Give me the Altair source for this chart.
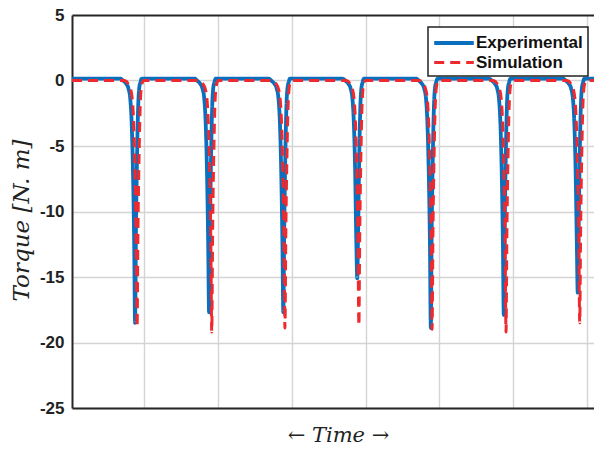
import altair as alt
import pandas as pd

# --- values ---
series_names = ["Experimental", "Simulation"]

# dip (minimum) times and depths, one per cycle
exp_dip_time = [0.883, 1.884, 2.888, 3.888, 4.883, 5.870, 6.870]
exp_dip_depth = [-18.5, -17.7, -17.7, -15.1, -18.9, -17.9, -16.2]
sim_dip_time = [0.910, 1.920, 2.910, 3.910, 4.900, 5.900, 6.897]
sim_dip_depth = [-18.8, -19.2, -18.9, -18.7, -19.0, -19.2, -18.5]

exp_baseline = 0.15
sim_baseline = 0.0

# shape of one dip around its minimum (time offset, torque); None = the dip depth
dip_offset = [-0.20, -0.16, -0.12, -0.09, -0.065, -0.045, -0.03, -0.012, 0.0,
              0.012, 0.027, 0.042, 0.056, 0.072, 0.09, 0.12]
dip_torque = [None, -0.02, -0.25, -0.6, -1.4, -3.4, -6.5, -12.5, None,
              -11.5, -5.8, -2.0, -0.6, -0.15, None, None]

time_start, time_end = 0.03, 7.09
y_ticks = [-25, -20, -15, -10, -5, 0, 5]
x_grid = [1, 2, 3, 4, 5, 6, 7]

blue = "#0b6fbd"
red = "#ee2a2e"


def build(name, times, depths, base):
    rows = [{"series": name, "t": time_start, "torque": base}]
    for c, d in zip(times, depths):
        for off, v in zip(dip_offset, dip_torque):
            if off == 0.0:
                val = d
            elif v is None:
                val = base
            else:
                val = v
            rows.append({"series": name, "t": c + off, "torque": val})
    rows.append({"series": name, "t": time_end, "torque": base})
    return rows


df = pd.DataFrame(build(series_names[0], exp_dip_time, exp_dip_depth, exp_baseline)
                  + build(series_names[1], sim_dip_time, sim_dip_depth, sim_baseline))

x_enc = alt.X(
    "t:Q",
    scale=alt.Scale(domain=[time_start, time_end], nice=False, zero=False),
    axis=alt.Axis(
        values=x_grid, labels=False, ticks=False, grid=True,
        gridColor="#d4d4d4", gridWidth=1.4,
        domain=True, domainColor="#262626", domainWidth=2,
        title="← Time →", titleFont="DejaVu Serif", titleFontStyle="italic",
        titleFontWeight="normal", titleFontSize=21, titleColor="#222222",
        titlePadding=16, titleX=266,
    ),
)
y_enc = alt.Y(
    "torque:Q",
    scale=alt.Scale(domain=[-25, 5], nice=False),
    axis=alt.Axis(
        values=y_ticks, ticks=False, grid=True,
        gridColor=alt.condition("datum.value == 5", alt.value("#262626"), alt.value("#d4d4d4")),
        gridWidth=alt.condition("datum.value == 5", alt.value(2), alt.value(1.4)),
        domain=True, domainColor="#262626", domainWidth=2,
        labelExpr="'' + datum.value", labelFont="Liberation Sans", labelFontWeight="bold",
        labelFontSize=17, labelColor="#222222", labelPadding=8,
        title="Torque  [N. m]", titleFont="DejaVu Serif", titleFontStyle="italic",
        titleFontWeight="normal", titleFontSize=23, titleColor="#222222",
        titlePadding=6, titleY=205,
    ),
)

color_enc = alt.Color(
    "series:N", title=None,
    scale=alt.Scale(domain=series_names, range=[blue, red]),
    legend=alt.Legend(
        orient="none", legendX=356, legendY=12,
        symbolType="M-2.2,0H2.2", symbolSize=324, symbolStrokeWidth=3.5,
        symbolOffset=10, labelOffset=11,
        labelFont="Liberation Sans", labelFontWeight="bold", labelFontSize=17,
        labelColor="#111111", padding=5, rowPadding=1,
        strokeColor="#222222", fillColor="white",
    ),
)
dash_enc = alt.StrokeDash(
    "series:N", title=None,
    scale=alt.Scale(domain=series_names, range=[[1, 0], [10, 6]]),
)
width_enc = alt.StrokeWidth(
    "series:N", legend=None,
    scale=alt.Scale(domain=series_names, range=[3.8, 3.0]),
)

chart = (
    alt.Chart(df)
    .mark_line(interpolate="monotone", strokeCap="butt")
    .encode(x=x_enc, y=y_enc, color=color_enc, strokeDash=dash_enc,
            strokeWidth=width_enc, detail="series:N",
            order=alt.Order("t:Q"))
    .properties(
        width=522, height=393,
        autosize=alt.AutoSizeParams(type="none"),
        padding={"left": 72, "top": 15, "right": 0, "bottom": 42},
        background="white",
    )
    .configure_view(stroke=None)
    .configure_legend(strokeWidth=1.5)
)

chart.save("out.html", embed_options={"renderer": "svg", "actions": False})
